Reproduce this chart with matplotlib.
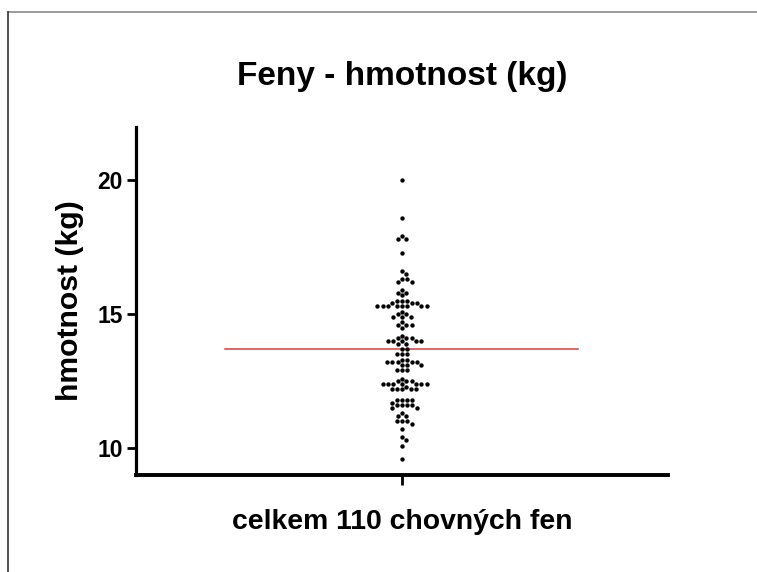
import numpy as np
import matplotlib
matplotlib.use("Agg")
import matplotlib.pyplot as plt
from matplotlib.lines import Line2D
from matplotlib import font_manager

# ---- data (weights in kg) ----
weights = [
    20.0,
    18.6,
    17.9, 17.8, 17.8,
    17.3,
    16.6, 16.5,
    16.3, 16.3, 16.2, 16.2,
    15.9,
    15.8, 15.8, 15.7,
    15.5, 15.5, 15.5,
    15.4, 15.4, 15.4,
    15.3, 15.3, 15.3, 15.3, 15.3, 15.3, 15.3, 15.3,
    15.1,
    15.0, 15.0, 14.9, 14.9, 14.9,
    14.7,
    14.6, 14.6, 14.6,
    14.5,
    14.2,
    14.1, 14.1, 14.1, 14.0, 14.0, 14.0, 14.0, 14.0, 13.9, 13.9,
    13.7, 13.7,
    13.5, 13.5, 13.5,
    13.3, 13.3, 13.2, 13.2, 13.2, 13.2, 13.2, 13.1, 13.1, 13.1,
    12.9, 12.9, 12.9,
    12.6, 12.5, 12.5, 12.5, 12.4, 12.4, 12.4, 12.4, 12.4, 12.4, 12.4,
    12.3, 12.2, 12.2, 12.2, 12.2, 12.2,
    11.8, 11.8, 11.8, 11.8, 11.7, 11.6, 11.6, 11.6, 11.6, 11.5, 11.5,
    11.3, 11.2, 11.2, 11.0, 11.0, 11.0, 10.9,
    10.7,
    10.4, 10.3, 10.1,
    9.6,
]
group_label = "celkem 110 chovných fen"
title = "Feny - hmotnost (kg)"
ylabel = "hmotnost (kg)"
yticks = [10, 15, 20]

plt.rcParams['font.family'] = ['Liberation Sans', 'DejaVu Sans']
plt.rcParams['font.weight'] = 'bold'

def has_font(name):
    try:
        font_manager.findfont(font_manager.FontProperties(family=name, weight='bold'),
                              fallback_to_default=False)
        return True
    except Exception:
        return False

narrow = has_font('Liberation Sans Narrow')
tick_family = ['Liberation Sans Narrow', 'Liberation Sans'] if narrow else ['Liberation Sans']
tick_size = 19 if narrow else 16.5

W, H = 757, 572
fig = plt.figure(figsize=(W / 100, H / 100), dpi=100)
ax = fig.add_axes([136 / W, 1 - 475 / H, (668 - 136) / W, (475 - 126.6) / H])
ax.set_xlim(-1, 1)
ax.set_ylim(9, 22)

# ---- beeswarm offsets computed in pixel space ----
vals = np.asarray(weights, dtype=float)
trans = ax.transData
x0 = trans.transform((0, 0))[0]
pxx = trans.transform((1, 0))[0] - x0
ypx = trans.transform(np.column_stack([np.zeros(len(vals)), vals]))[:, 1]
d = 5.2
order = np.argsort(-vals, kind="stable")
placed_x, placed_y = [], []
offs = np.zeros(len(vals))
for i in order:
    y = ypx[i]
    cands = [0.0]
    for xj, yj in zip(placed_x, placed_y):
        dy = y - yj
        if abs(dy) < d:
            dx = np.sqrt(d * d - dy * dy)
            cands += [xj + dx, xj - dx]
    cands = sorted(set(np.round(cands, 4)), key=lambda c: (abs(c), -c))
    for c in cands:
        ok = True
        for xj, yj in zip(placed_x, placed_y):
            if (c - xj) ** 2 + (y - yj) ** 2 < d * d - 1e-6:
                ok = False
                break
        if ok:
            break
    placed_x.append(c)
    placed_y.append(y)
    offs[i] = c
xs = offs / pxx

ax.scatter(xs, vals, s=10, color='black', linewidths=0, zorder=3)
m = vals.mean()
ax.plot([-0.665, 0.662], [m, m], color='#e0383a', lw=1.1, zorder=2)

for s in ['top', 'right']:
    ax.spines[s].set_visible(False)
ax.spines['left'].set_linewidth(2.3)
ax.spines['bottom'].set_linewidth(2.8)
ax.set_yticks(yticks)
ax.set_yticklabels([str(t) for t in yticks], fontsize=tick_size, fontweight='bold',
                   family=tick_family)
ax.set_xticks([0])
ax.set_xticklabels([''])
ax.tick_params(axis='y', length=6.5, width=2.0, pad=3)
ax.tick_params(axis='x', length=7, width=2.0)

fig.text(402 / W, 1 - 85 / H, title, ha='center', va='baseline',
         fontsize=24, fontweight='bold')
fig.text(402 / W, 1 - 529 / H, group_label, ha='center', va='baseline',
         fontsize=20.4, fontweight='bold')
fig.text(70 / W, 1 - 301 / H, ylabel, ha='center', va='center', rotation=90,
         fontsize=21.7, fontweight='bold')

# partial frame of the exported picture
fig.add_artist(Line2D([8 / W, 1], [1 - 12 / H, 1 - 12 / H], color='#8a8a8a', lw=1.2,
                      transform=fig.transFigure))
fig.add_artist(Line2D([8 / W, 8 / W], [0, 1 - 12 / H], color='#333333', lw=1.2,
                      transform=fig.transFigure))

fig.savefig('out.png', dpi=100)
